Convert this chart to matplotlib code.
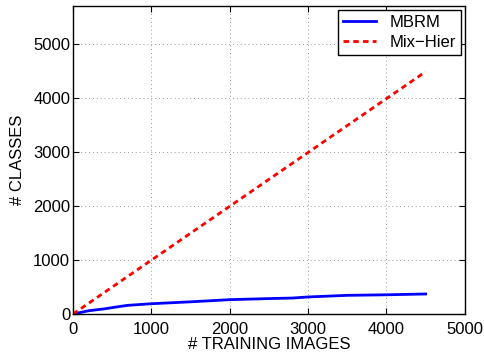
import matplotlib
matplotlib.use("Agg")
import matplotlib.pyplot as plt

plt.rcParams["font.family"] = ["Liberation Sans", "DejaVu Sans"]

# MBRM: number of classes vs number of training images
mbrm_x = [0, 100, 200, 400, 600, 700, 1000, 1500, 2000, 2500, 2800, 3000, 3500, 4000, 4500]
mbrm_y = [0, 30, 60, 95, 140, 160, 190, 225, 265, 285, 295, 315, 345, 355, 370]

# Mix-Hier: one class per image
mix_x = [0, 4500]
mix_y = [0, 4480]

fig = plt.figure(figsize=(4.85, 3.54), dpi=100)
ax = fig.add_axes([0.1505, 0.113, 0.808, 0.871])

ax.plot(mbrm_x, mbrm_y, color="#0000ff", lw=2, label="MBRM")
ax.plot(mix_x, mix_y, color="#ff0000", lw=2, ls=(0, (2, 1.5)), label="Mix\u2212Hier")

ax.set_xlim(0, 5000)
ax.set_ylim(0, 5700)
ax.set_xticks([0, 1000, 2000, 3000, 4000, 5000])
ax.set_yticks([0, 1000, 2000, 3000, 4000, 5000])
ax.grid(True, ls=(0, (1, 3)), color="#999999", lw=0.7)
ax.tick_params(direction="in", labelsize=12, length=4, top=True, right=True)
ax.tick_params(axis="x", pad=6)
ax.tick_params(axis="y", pad=2)
for s in ax.spines.values():
    s.set_linewidth(1)

ax.set_xlabel("# TRAINING IMAGES", fontsize=12, labelpad=0)
ax.set_ylabel("# CLASSES", fontsize=12, labelpad=6)

leg = ax.legend(loc="upper right", fontsize=12, fancybox=False, framealpha=1,
                edgecolor="black", handlelength=2.0, handletextpad=0.8,
                borderpad=0.3, labelspacing=0.3, borderaxespad=0.25)
leg.get_frame().set_linewidth(1)

fig.savefig("out.png", dpi=100)
